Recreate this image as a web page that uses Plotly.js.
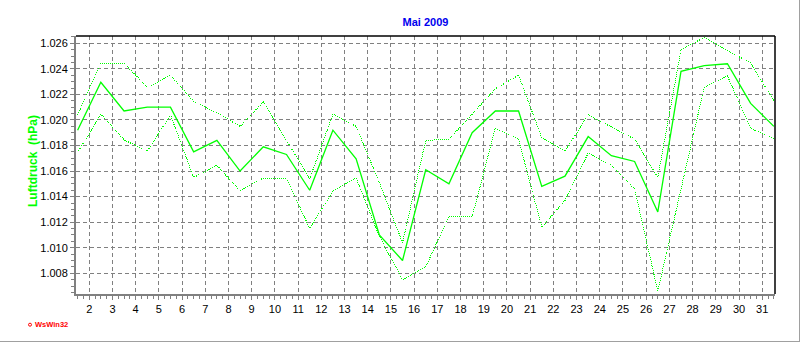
<!DOCTYPE html>
<html>
<head>
<meta charset="utf-8">
<script src="https://cdn.plot.ly/plotly-3.0.1.min.js"></script>
<style>
  html, body { margin: 0; padding: 0; background: #ffffff; }
  #chart { width: 799px; height: 341px; border-right: 1px solid #a0a0a0; border-bottom: 1px solid #a0a0a0; }
  .scatterlayer .trace:nth-child(1) path.js-line,
  .scatterlayer .trace:nth-child(2) path.js-line { shape-rendering: crispEdges; }
</style>
</head>
<body>
<div id="chart"></div>
<script>
// Days of May 2009
const days = [1,2,3,4,5,6,7,8,9,10,11,12,13,14,15,16,17,18,19,20,21,22,23,24,25,26,27,28,29,30,31];
// Daily mean air pressure (hPa)
const meanP = [1019.2, 1022.95, 1020.7, 1021.0, 1021.0, 1017.5, 1018.4, 1016.0, 1017.9, 1017.3,
               1014.5, 1019.2, 1016.95, 1011.0, 1009.0, 1016.1, 1015.0, 1019.0, 1020.7, 1020.7,
               1014.8, 1015.6, 1018.7, 1017.2, 1016.75, 1012.8, 1023.8, 1024.25, 1024.4, 1021.3, 1019.5];
// Daily maximum air pressure (hPa)
const maxP = [1020.4, 1024.45, 1024.45, 1022.55, 1023.5, 1021.45, 1020.55, 1019.5, 1021.4, 1018.4,
              1015.4, 1020.45, 1019.5, 1015.1, 1010.4, 1018.4, 1018.5, 1020.45, 1022.45, 1023.5,
              1018.6, 1017.55, 1020.4, 1019.45, 1018.5, 1015.5, 1025.5, 1026.45, 1025.45, 1024.45, 1021.5];
// Daily minimum air pressure (hPa)
const minP = [1017.45, 1020.45, 1018.45, 1017.55, 1020.4, 1015.5, 1016.45, 1014.45, 1015.45, 1015.45,
              1011.5, 1014.45, 1015.45, 1010.9, 1007.5, 1008.5, 1012.45, 1012.45, 1019.35, 1018.5,
              1011.6, 1013.7, 1017.4, 1016.45, 1014.6, 1006.6, 1014.6, 1022.55, 1023.45, 1019.35, 1018.55];

const titleText = 'Mai 2009';
const yTitle = 'Luftdruck  (hPa)';
const footer = 'WsWin32';

// each daily value is drawn in the middle of its day
const xs = days.map(d => d + 0.5);

const W = 799, H = 341;
const L = 76, R = 775, T = 36, B = 294;
const pw = R - L, ph = B - T;
const px = x => (x - L) / pw;
const py = y => (B - y) / ph;

const green = '#00ff00';
const traces = [
  { x: xs, y: maxP, type: 'scatter', mode: 'lines', line: { color: green, width: 1, dash: '1px,1px' }, hoverinfo: 'y' },
  { x: xs, y: minP, type: 'scatter', mode: 'lines', line: { color: green, width: 1, dash: '1px,1px' }, hoverinfo: 'y' },
  { x: xs, y: meanP, type: 'scatter', mode: 'lines', line: { color: green, width: 1.3 }, hoverinfo: 'y' }
];

const axisFont = { family: 'Liberation Sans, Arial, sans-serif', size: 11, color: '#000000' };

const layout = {
  width: W, height: H,
  margin: { l: L, r: W - R, t: T, b: H - B, pad: 0 },
  paper_bgcolor: '#ffffff', plot_bgcolor: '#ffffff',
  showlegend: false,
  separators: ',.',
  title: { text: '<b>' + titleText + '</b>', x: 0.5, xref: 'paper', xanchor: 'center', y: 1 - 22 / H, yanchor: 'middle',
           font: { family: 'Liberation Sans, Arial, sans-serif', size: 11, color: '#0000ee' } },
  xaxis: {
    range: [1.43, 31.55], tick0: 2, dtick: 1, tickmode: 'linear',
    showgrid: true, gridcolor: '#808080', gridwidth: 1, griddash: '4px,3px',
    zeroline: false, showline: true, linecolor: '#808080', linewidth: 2,
    ticks: 'outside', ticklen: 4, tickcolor: '#808080', tickwidth: 1,
    minor: { dtick: 0.25, tick0: 2, ticks: 'outside', ticklen: 3, tickcolor: '#808080', showgrid: false },
    tickfont: axisFont, fixedrange: true
  },
  yaxis: {
    range: [1006.38, 1026.57], tick0: 1008, dtick: 2, tickmode: 'linear', tickformat: ',.0f',
    showgrid: true, gridcolor: '#808080', gridwidth: 1, griddash: '4px,3px',
    zeroline: false, showline: true, linecolor: '#808080', linewidth: 2,
    ticks: 'outside', ticklen: 4, tickcolor: '#808080', tickwidth: 1,
    minor: { dtick: 0.5, tick0: 1008, ticks: 'outside', ticklen: 3, tickcolor: '#808080', showgrid: false },
    tickfont: axisFont, fixedrange: true
  },
  shapes: [
    { type: 'line', xref: 'paper', yref: 'paper', x0: 0, x1: 1, y0: 1, y1: 1, line: { color: '#000000', width: 1.5 } },
    { type: 'line', xref: 'paper', yref: 'paper', x0: 1, x1: 1, y0: 0, y1: 1, line: { color: '#000000', width: 1.5 } },
    { type: 'circle', xref: 'paper', yref: 'paper', x0: px(28.5), x1: px(31.5), y0: py(326.2), y1: py(323.2),
      line: { color: '#ff0000', width: 1 }, fillcolor: '#ffffff' }
  ],
  annotations: [
    { text: '<b>' + yTitle + '</b>', xref: 'paper', yref: 'paper', x: px(33), y: py(161), xanchor: 'center', yanchor: 'middle',
      textangle: -90, showarrow: false, font: { family: 'Liberation Sans, Arial, sans-serif', size: 12, color: green } },
    { text: '<b>' + footer + '</b>', xref: 'paper', yref: 'paper', x: px(32.5), y: py(324.7), xanchor: 'left', yanchor: 'middle',
      showarrow: false, font: { family: 'Liberation Sans, Arial, sans-serif', size: 7.5, color: '#ff0000' } }
  ]
};

Plotly.newPlot('chart', traces, layout, { displayModeBar: false, staticPlot: true });
</script>
</body>
</html>
